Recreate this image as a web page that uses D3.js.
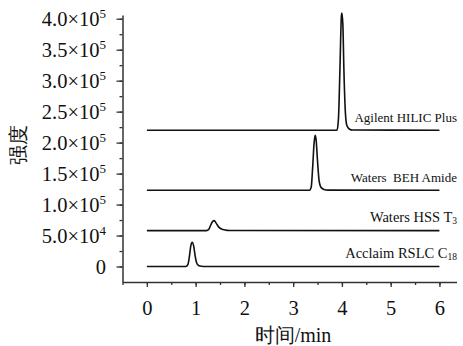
<!DOCTYPE html>
<html><head><meta charset="utf-8">
<script src="https://cdn.jsdelivr.net/npm/d3@7"></script>
<style>
body{margin:0;background:#fff;}
svg text{font-family:"Liberation Serif","Times New Roman",Times,"DejaVu Serif",serif;}
</style></head>
<body><svg id="c" width="463" height="346"></svg>
<script>
// ---- data ----
const xTicks = [0,1,2,3,4,5,6];
const xMinorTicks = [-0.5,0,0.5,1,1.5,2,2.5,3,3.5,4,4.5,5,5.5,6];
const yTicks = [0,50000,100000,150000,200000,250000,300000,350000,400000];
const yMinorTicks = [0,25000,50000,75000,100000,125000,150000,175000,200000,225000,250000,275000,300000,325000,350000,375000,400000];
const yTickMantissa = ["0","5.0","1.0","1.5","2.0","2.5","3.0","3.5","4.0"];
const yTickExponent = ["","4","5","5","5","5","5","5","5"];

const c18Time  = [0,0.8,0.84,0.87,0.9,0.93,0.96,0.99,1.02,1.06,1.12,1.2,6];
const c18Value = [0,0,3000,15000,33000,39000,33000,17000,6000,1500,300,0,0];

const t3Time  = [0,1.22,1.27,1.31,1.35,1.38,1.42,1.47,1.53,1.6,1.7,6];
const t3Value = [58000,58000,60000,67000,73000,74000,70000,64000,60500,59000,58200,58000];

const behTime  = [0,3.33,3.37,3.4,3.43,3.45,3.47,3.5,3.53,3.57,3.63,3.72,6];
const behValue = [123000,123000,128000,160000,200000,212000,205000,170000,140000,128000,124500,123300,123000];

const hilicTime  = [0,3.9,3.93,3.96,3.99,4.0,4.02,4.04,4.07,4.1,4.15,4.22,6];
const hilicValue = [220000,220000,240000,320000,405000,409000,390000,320000,250000,228000,222000,220300,220000];

const labelMain = ["Agilent HILIC Plus","Waters  BEH Amide","Waters HSS T","Acclaim RSLC C"];
const labelSub  = ["","","3","18"];
const labelBaseline = [220000,123000,58000,0];

// ---- chart ----
const svg = d3.select("#c");
const x = d3.scaleLinear().domain([-0.5,6.35]).range([122.5,456.5]);
const y = d3.scaleLinear().domain([-25000,406000]).range([282,15]);

const axColor = "#333";
const serif = "'Liberation Serif','Times New Roman',Times,'DejaVu Serif',serif";
const labelFontSize = [13,13,14.5,14.5];

// minor ticks
svg.append("g").attr("transform","translate(0,282)")
  .call(d3.axisBottom(x).tickValues(xMinorTicks).tickSize(3).tickFormat("").tickSizeOuter(0))
  .call(g=>g.select(".domain").remove())
  .call(g=>g.selectAll("line").attr("stroke",axColor).attr("stroke-width",1.3));
svg.append("g").attr("transform","translate(122.5,0)")
  .call(d3.axisLeft(y).tickValues(yMinorTicks).tickSize(3).tickFormat("").tickSizeOuter(0))
  .call(g=>g.select(".domain").remove())
  .call(g=>g.selectAll("line").attr("stroke",axColor).attr("stroke-width",1.3));

// major x
const gx = svg.append("g").attr("transform","translate(0,282)")
  .call(d3.axisBottom(x).tickValues(xTicks).tickSize(5).tickSizeOuter(0).tickPadding(13).tickFormat(d3.format("d")));
gx.attr("font-family",serif);
gx.select(".domain").attr("stroke",axColor).attr("stroke-width",1.5);
gx.selectAll("line").attr("stroke",axColor).attr("stroke-width",1.3);
gx.selectAll("text").attr("font-size",20.5).attr("fill","#111");

// major y
const gy = svg.append("g").attr("transform","translate(122.5,0)")
  .call(d3.axisLeft(y).tickValues(yTicks).tickSize(6).tickSizeOuter(0).tickFormat(""));
gy.attr("font-family",serif);
gy.select(".domain").attr("stroke",axColor).attr("stroke-width",1.5);
gy.selectAll("line").attr("stroke",axColor).attr("stroke-width",1.3);
gy.selectAll(".tick").each(function(d,i){
  const t = d3.select(this).append("text")
    .attr("x",-16.5).attr("dy","0.33em").attr("text-anchor","end")
    .attr("font-size",20.5).attr("fill","#111");
  if (yTickExponent[i]) {
    t.append("tspan").text(yTickMantissa[i] + "\u00d710");
    t.append("tspan").attr("font-size",13).attr("dy",-8).text(yTickExponent[i]);
  } else {
    t.text(yTickMantissa[i]);
  }
});

// traces
const traces = [
  d3.zip(hilicTime,hilicValue),
  d3.zip(behTime,behValue),
  d3.zip(t3Time,t3Value),
  d3.zip(c18Time,c18Value)
];
const lineGen = d3.line().x(d=>x(d[0])).y(d=>y(d[1])).curve(d3.curveMonotoneX);
svg.append("g").selectAll("path").data(traces).join("path")
  .attr("d",lineGen).attr("fill","none").attr("stroke","#111").attr("stroke-width",1.6)
  .attr("stroke-linejoin","round");

// labels
labelMain.forEach((m,i)=>{
  const t = svg.append("text").attr("x",457).attr("y",y(labelBaseline[i])-8.5)
    .attr("text-anchor","end").attr("font-size",labelFontSize[i]).attr("fill","#111")
    .style("white-space","pre");
  t.append("tspan").text(m);
  if (labelSub[i]) t.append("tspan").attr("font-size",9.5).attr("dy",2).text(labelSub[i]);
});

// axis titles
svg.append("text").attr("x",293).attr("y",342).attr("text-anchor","middle")
  .attr("font-size",20).attr("fill","#111").text("时间/min");
svg.append("text").attr("transform","translate(25,145) rotate(-90)").attr("text-anchor","middle")
  .attr("font-size",20).attr("fill","#111").text("强度");
</script></body></html>
